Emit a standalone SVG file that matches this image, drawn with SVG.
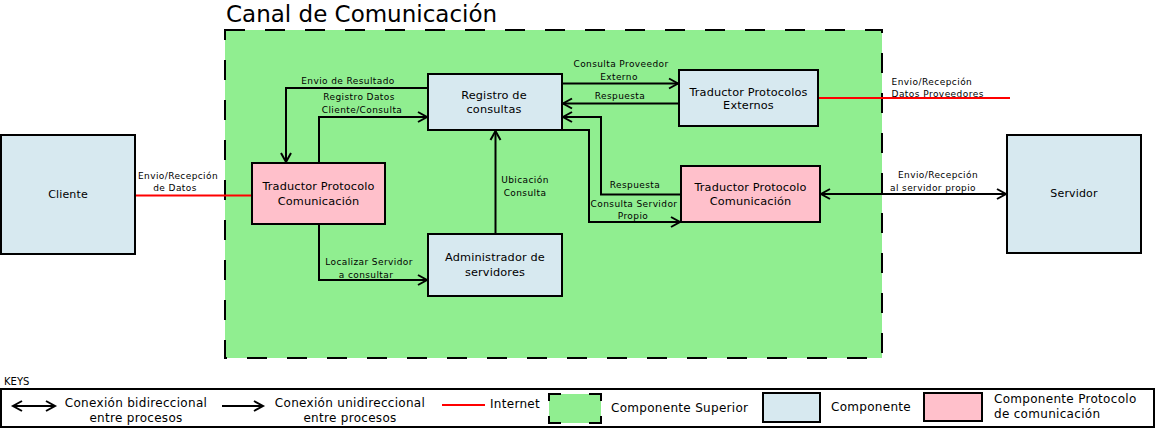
<svg xmlns="http://www.w3.org/2000/svg" width="1156" height="429" viewBox="0 0 1156 429">
<defs>
<marker id="arr" markerUnits="userSpaceOnUse" markerWidth="14" markerHeight="14" refX="10" refY="6" orient="auto-start-reverse" viewBox="0 0 14 12">
<path d="M1,1 L10,6 L1,11" fill="none" stroke="#000" stroke-width="2"/>
</marker>
</defs>
<style>
text{font-family:"DejaVu Sans","Liberation Sans",sans-serif;fill:#000}
.t{font-size:23px}
.n{font-size:11.3px;text-anchor:middle;letter-spacing:0.15px}
.s{font-size:9px;text-anchor:middle;letter-spacing:0.4px}
.sl{font-size:9px;letter-spacing:0.45px}
.k{font-size:12px;letter-spacing:0.3px}
.kc{font-size:12px;text-anchor:middle;letter-spacing:0.3px}
.blue{fill:#d7e9f0;stroke:#000;stroke-width:2}
.pink{fill:#ffc0cb;stroke:#000;stroke-width:2}
.c{fill:none;stroke:#000;stroke-width:2}
.a{marker-end:url(#arr)}
.net{fill:none;stroke:#ff0000;stroke-width:2}
</style>
<rect width="1156" height="429" fill="#fff"/>

<g id="canal">
<rect x="225" y="30" width="657" height="328" fill="#90ee90" stroke="#000" stroke-width="2" stroke-dasharray="20 20"/>
<text class="t" x="226" y="22">Canal de Comunicación</text>
</g>

<g id="connectors">
<path class="net" d="M135,195.5 H252"/>
<path class="net" d="M818,98 H1010"/>
<path class="c a" d="M428,88 H286 V162"/>
<path class="c a" d="M319,163 V117 H427"/>
<path class="c a" d="M562,83.5 H678"/>
<path class="c a" d="M679,103.5 H563"/>
<path class="c a" d="M681,194.5 H601 V117 H563"/>
<path class="c a" d="M562,130 H589 V222 H680"/>
<path class="c a" d="M495.5,234 V131"/>
<path class="c a" d="M319,224 V280 H427"/>
<path class="c a" d="M821,194 H1006" style="marker-start:url(#arr)"/>
<text class="s" x="348" y="84">Envio de Resultado</text>
<text class="s" x="359" y="100">Registro Datos</text>
<text class="s" x="362" y="112.5">Cliente/Consulta</text>
<text class="s" x="621" y="67">Consulta Proveedor</text>
<text class="s" x="619" y="80">Externo</text>
<text class="s" x="620" y="99">Respuesta</text>
<text class="s" x="635" y="188">Respuesta</text>
<text class="s" x="634" y="207">Consulta Servidor</text>
<text class="s" x="633" y="219">Propio</text>
<text class="s" x="525" y="183">Ubicación</text>
<text class="s" x="525" y="196">Consulta</text>
<text class="s" x="369" y="265">Localizar Servidor</text>
<text class="s" x="366" y="277.5">a consultar</text>
<text class="s" x="178" y="179">Envio/Recepción</text>
<text class="s" x="175" y="190.5">de Datos</text>
<text class="sl" x="891.5" y="85">Envio/Recepción</text>
<text class="sl" x="891.5" y="96.5">Datos Proveedores</text>
<text class="s" x="938" y="178">Envio/Recepción</text>
<text class="s" x="933" y="190.5">al servidor propio</text>
</g>

<g id="cliente">
<rect class="blue" x="1" y="135" width="134" height="119"/>
<text class="n" x="68" y="198" style="font-size:11px">Cliente</text>
</g>

<g id="servidor">
<rect class="blue" x="1007" y="135" width="134" height="118"/>
<text class="n" x="1074" y="197" style="font-size:11px">Servidor</text>
</g>

<g id="traductor-izq">
<rect class="pink" x="252" y="163" width="133" height="61"/>
<text class="n" x="318.5" y="190">Traductor Protocolo</text>
<text class="n" x="318.5" y="205">Comunicación</text>
</g>

<g id="registro">
<rect class="blue" x="428" y="74" width="134" height="56"/>
<text class="n" x="494" y="99">Registro de</text>
<text class="n" x="494" y="113">consultas</text>
</g>

<g id="administrador">
<rect class="blue" x="428" y="234" width="134" height="62"/>
<text class="n" x="495" y="261">Administrador de</text>
<text class="n" x="495" y="275.5">servidores</text>
</g>

<g id="traductor-externos">
<rect class="blue" x="679" y="70" width="139" height="56"/>
<text class="n" x="748.5" y="95.5">Traductor Protocolos</text>
<text class="n" x="748.5" y="108.5">Externos</text>
</g>

<g id="traductor-der">
<rect class="pink" x="681" y="166" width="139" height="56"/>
<text class="n" x="750.5" y="191">Traductor Protocolo</text>
<text class="n" x="750.5" y="205">Comunicación</text>
</g>

<g id="keys">
<text x="4" y="385" style="font-size:10px">KEYS</text>
<rect x="1" y="389" width="1153" height="38" fill="none" stroke="#000" stroke-width="2"/>
<path class="c a" d="M13,406 H55" style="marker-start:url(#arr)"/>
<text class="kc" x="136" y="407">Conexión bidireccional</text>
<text class="kc" x="136" y="422">entre procesos</text>
<path class="c a" d="M222,406 H263"/>
<text class="kc" x="350" y="407">Conexión unidireccional</text>
<text class="kc" x="350" y="422">entre procesos</text>
<path class="net" d="M442,405 H485"/>
<text class="k" x="490" y="408">Internet</text>
<rect x="549" y="394" width="52" height="29" fill="#90ee90"/>
<path d="M549,394 H601 V423 H549 Z" fill="none" stroke="#000" stroke-width="2" stroke-dasharray="12 28 19 15 19 28 19 15 7"/>
<text class="k" x="611" y="412">Componente Superior</text>
<rect class="blue" x="763" y="393" width="57" height="29"/>
<text class="k" x="831" y="411">Componente</text>
<rect class="pink" x="924" y="393" width="58" height="28"/>
<text class="k" x="994" y="403">Componente Protocolo</text>
<text class="k" x="994" y="418">de comunicación</text>
</g>
</svg>
